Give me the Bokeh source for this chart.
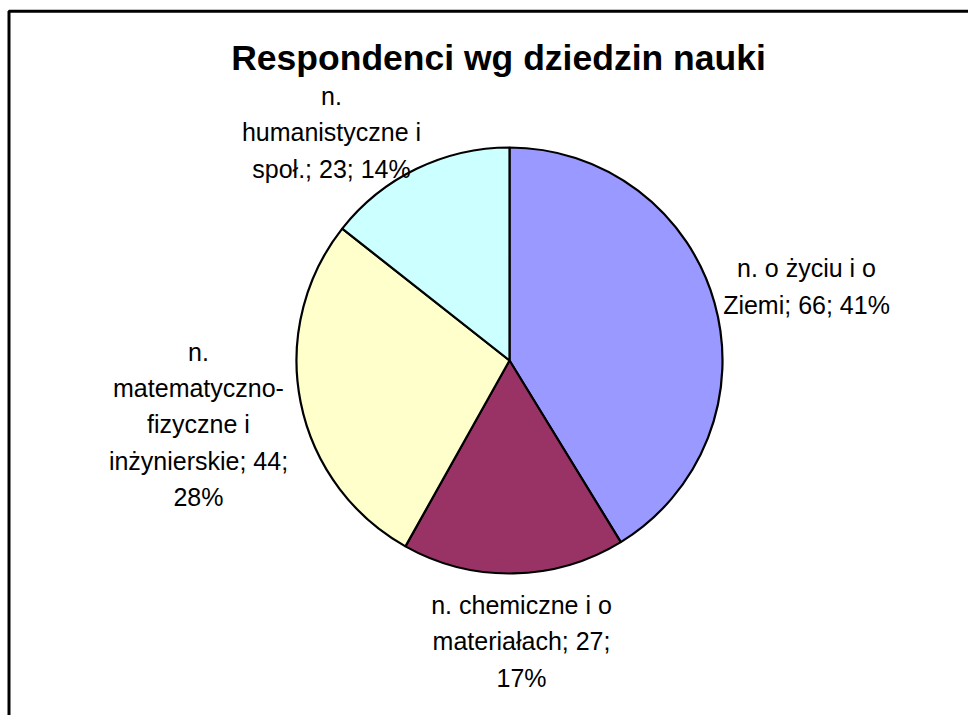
from bokeh.plotting import figure
from bokeh.models import Range1d, ColumnDataSource
from bokeh.core.properties import value
from bokeh.embed import file_html
from bokeh.resources import INLINE
import math

# ---- data ----
categories = ["n. o życiu i o Ziemi", "n. chemiczne i o materiałach",
              "n. matematyczno-fizyczne i inżynierskie", "n. humanistyczne i społ."]
values = [66, 27, 44, 23]
label_fmt = ["n. o życiu i o\nZiemi; {v}; {p}%",
             "n. chemiczne i o\nmateriałach; {v};\n{p}%",
             "n.\nmatematyczno-\nfizyczne i\ninżynierskie; {v};\n{p}%",
             "n.\nhumanistyczne i\nspoł.; {v}; {p}%"]
colors = ["#9999FF", "#993366", "#FFFFCC", "#CCFFFF"]
title = "Respondenci wg dziedzin nauki"

# ---- layout ----
W, H = 968, 715
cx, cy, R = 509, 355, 213
label_dx = [297, 12, -311, -178]
label_dy = [74, -281, -64, 228]

total = sum(values)
starts, ends, labels = [], [], []
acc = 0
for v, f in zip(values, label_fmt):
    a0 = math.pi / 2 - 2 * math.pi * acc / total
    acc += v
    a1 = math.pi / 2 - 2 * math.pi * acc / total
    starts.append(a0)
    ends.append(a1)
    labels.append(f.format(v=v, p=int(v / total * 100 + 0.5)))

src = ColumnDataSource(dict(cat=categories, val=values, start=starts, end=ends,
                            color=colors, label=labels,
                            lx=[cx + d for d in label_dx], ly=[cy + d for d in label_dy]))

p = figure(width=W, height=H, x_range=Range1d(0, W), y_range=Range1d(0, H),
           output_backend="svg", toolbar_location=None, min_border=0)
p.axis.visible = False
p.grid.visible = False
p.outline_line_color = None
p.background_fill_color = "white"

# chart frame (extends beyond the visible area on the right and bottom)
p.quad(left=[8.5], right=[W + 50], top=[H - 10.7], bottom=[-50],
       fill_color=None, line_color="black", line_width=3)

p.wedge(x=cx, y=cy, radius=R, start_angle="start", end_angle="end", direction="clock",
        fill_color="color", line_color="black", line_width=2.2, source=src)

p.text(x="lx", y="ly", text="label", source=src, text_font=value("Liberation Sans"),
       text_font_size="25px", text_align="center", text_baseline="middle",
       text_color="black", text_line_height=1.30)

p.text(x=[498], y=[H - 57], text=[title], text_font=value("Liberation Sans"),
       text_font_size="35.5px", text_font_style="bold", text_align="center",
       text_baseline="alphabetic", text_color="black")

open("out.html", "w").write(file_html(p, INLINE))
